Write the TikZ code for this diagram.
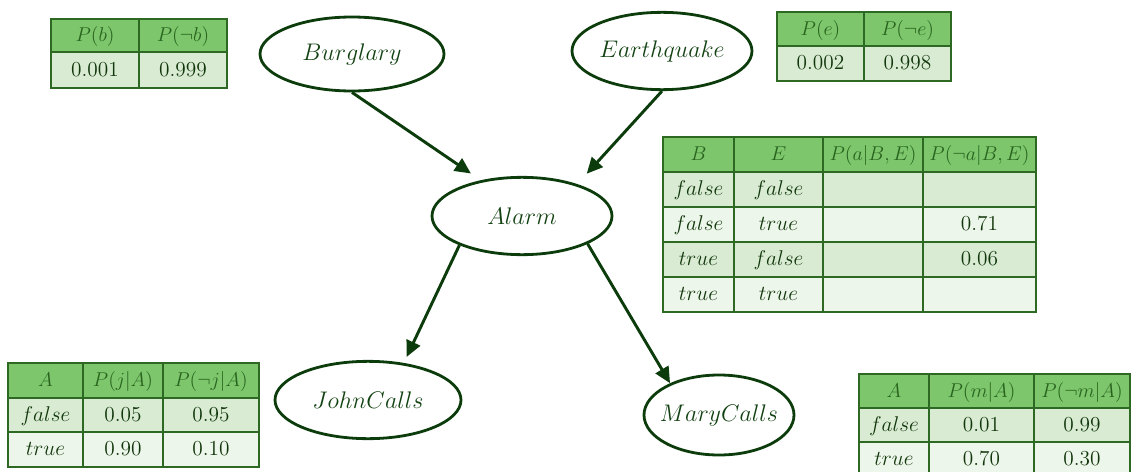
\documentclass[tikz,border=0pt]{standalone}
\usepackage{fix-cm}
\usetikzlibrary{shapes.geometric,arrows.meta}
\definecolor{hdrfill}{RGB}{125,198,108}
\definecolor{rowa}{RGB}{217,236,211}
\definecolor{rowb}{RGB}{237,246,234}
\definecolor{hdrtxt}{RGB}{40,100,30}
\definecolor{bodytxt}{RGB}{18,55,12}
\definecolor{gridc}{RGB}{45,105,35}
\definecolor{nodec}{RGB}{12,60,12}
\definecolor{nodetxt}{RGB}{18,65,18}
\newcommand\tcell[8]{%
  \fill[#6] (#2,#3) rectangle (#4,#5);
  \draw[cellline] (#2,#3) rectangle (#4,#5);
  \node[celltxt,text=#7] (#1) at ({(#2+#4)/2},{(#3+#5)/2}) {#8};}
\newcommand\ecell[5]{%
  \fill[#5] (#1,#2) rectangle (#3,#4);
  \draw[cellline] (#1,#2) rectangle (#3,#4);}
\newcommand\zw[1]{\makebox[0pt]{#1}}
\begin{document}
\begin{tikzpicture}[x=0.75pt,y=-0.75pt,
  bnode/.style={ellipse,draw=nodec,line width=2.1pt,inner sep=0pt,text=nodetxt,font=\fontsize{18}{21}\selectfont},
  arr/.style={draw=nodec,line width=2.2pt,-{Triangle[length=12pt,width=11pt]}},
  cellline/.style={draw=gridc,line width=0.8pt},
  celltxt/.style={inner sep=0pt,text height=11.5pt,text depth=2pt,font=\fontsize{16}{19}\selectfont},
  hdrsize/.style={font=\fontsize{15}{18}\selectfont}]
\useasboundingbox (0,0) rectangle (1131,471);

% ---- P(b) table
\tcell{pb1}{51}{19}{139}{52}{hdrfill}{hdrtxt,hdrsize}{$P(b)$}
\tcell{pb2}{139}{19}{227}{52}{hdrfill}{hdrtxt,hdrsize}{$P(\neg b)$}
\tcell{pb3}{51}{52}{139}{88}{rowa}{bodytxt}{$0.001$}
\tcell{pb4}{139}{52}{227}{88}{rowa}{bodytxt}{$0.999$}

% ---- P(e) table
\tcell{pe1}{777}{12}{864}{46}{hdrfill}{hdrtxt,hdrsize}{$P(e)$}
\tcell{pe2}{864}{12}{951}{46}{hdrfill}{hdrtxt,hdrsize}{$P(\neg e)$}
\tcell{pe3}{777}{46}{864}{81}{rowa}{bodytxt}{$0.002$}
\tcell{pe4}{864}{46}{951}{81}{rowa}{bodytxt}{$0.998$}

% ---- Alarm table
\tcell{ah1}{663}{137}{734}{172}{hdrfill}{hdrtxt,hdrsize}{$B$}
\tcell{ah2}{734}{137}{823}{172}{hdrfill}{hdrtxt,hdrsize}{$E$}
\tcell{ah3}{823}{137}{923}{172}{hdrfill}{hdrtxt,hdrsize}{$P(a|B,E)$}
\tcell{ah4}{923}{137}{1036}{172}{hdrfill}{hdrtxt,hdrsize}{$P(\neg a|B,E)$}
\tcell{a11}{663}{172}{734}{207}{rowa}{bodytxt}{$false$}
\tcell{a12}{734}{172}{823}{207}{rowa}{bodytxt}{$false$}
\ecell{823}{172}{923}{207}{rowa}
\ecell{923}{172}{1036}{207}{rowa}
\tcell{a21}{663}{207}{734}{242}{rowb}{bodytxt}{$false$}
\tcell{a22}{734}{207}{823}{242}{rowb}{bodytxt}{$true$}
\ecell{823}{207}{923}{242}{rowb}
\tcell{a24}{923}{207}{1036}{242}{rowb}{bodytxt}{$0.71$}
\tcell{a31}{663}{242}{734}{277}{rowa}{bodytxt}{$true$}
\tcell{a32}{734}{242}{823}{277}{rowa}{bodytxt}{$false$}
\ecell{823}{242}{923}{277}{rowa}
\tcell{a34}{923}{242}{1036}{277}{rowa}{bodytxt}{$0.06$}
\tcell{a41}{663}{277}{734}{312}{rowb}{bodytxt}{$true$}
\tcell{a42}{734}{277}{823}{312}{rowb}{bodytxt}{$true$}
\ecell{823}{277}{923}{312}{rowb}
\ecell{923}{277}{1036}{312}{rowb}
\draw[draw=gridc,line width=2.2pt] (663,172) -- (1036,172);

% ---- John table
\tcell{jh1}{8}{363}{83}{398}{hdrfill}{hdrtxt,hdrsize}{$A$}
\tcell{jh2}{83}{363}{163}{398}{hdrfill}{hdrtxt,hdrsize}{$P(j|A)$}
\tcell{jh3}{163}{363}{259}{398}{hdrfill}{hdrtxt,hdrsize}{$P(\neg j|A)$}
\tcell{j11}{8}{398}{83}{432}{rowa}{bodytxt}{$false$}
\tcell{j12}{83}{398}{163}{432}{rowa}{bodytxt}{$0.05$}
\tcell{j13}{163}{398}{259}{432}{rowa}{bodytxt}{$0.95$}
\tcell{j21}{8}{432}{83}{467}{rowb}{bodytxt}{$true$}
\tcell{j22}{83}{432}{163}{467}{rowb}{bodytxt}{$0.90$}
\tcell{j23}{163}{432}{259}{467}{rowb}{bodytxt}{$0.10$}

% ---- Mary table
\tcell{mh1}{859}{374}{929}{408}{hdrfill}{hdrtxt,hdrsize}{$A$}
\tcell{mh2}{929}{374}{1034}{408}{hdrfill}{hdrtxt,hdrsize}{$P(m|A)$}
\tcell{mh3}{1034}{374}{1130}{408}{hdrfill}{hdrtxt,hdrsize}{$P(\neg m|A)$}
\tcell{m11}{859}{408}{929}{442}{rowa}{bodytxt}{$false$}
\tcell{m12}{929}{408}{1034}{442}{rowa}{bodytxt}{$0.01$}
\tcell{m13}{1034}{408}{1130}{442}{rowa}{bodytxt}{$0.99$}
\tcell{m21}{859}{442}{929}{476}{rowb}{bodytxt}{$true$}
\tcell{m22}{929}{442}{1034}{476}{rowb}{bodytxt}{$0.70$}
\tcell{m23}{1034}{442}{1130}{476}{rowb}{bodytxt}{$0.30$}

% ---- network nodes
\node[bnode,minimum width=138pt,minimum height=55.5pt] (B) at (352,54) {\zw{$Burglary$}};
\node[bnode,minimum width=135pt,minimum height=58pt] (E) at (662,51) {\zw{$Earthquake$}};
\node[bnode,minimum width=135pt,minimum height=58pt] (A) at (522,216) {\zw{$Alarm$}};
\node[bnode,minimum width=139.5pt,minimum height=58pt] (J) at (368,400) {\zw{$JohnCalls$}};
\node[bnode,minimum width=112.5pt,minimum height=60pt] (M) at (719,415) {\zw{$MaryCalls$}};

% ---- connectors
\draw[arr,shorten >=9pt] (B.south) -- (A.139);
\draw[arr,shorten >=10.5pt] (E.south) -- (A.30.5);
\draw[arr,shorten >=5pt] (A.205) -- (J.46);
\draw[arr] (A.337) -- (M.147);
\end{tikzpicture}
\end{document}
